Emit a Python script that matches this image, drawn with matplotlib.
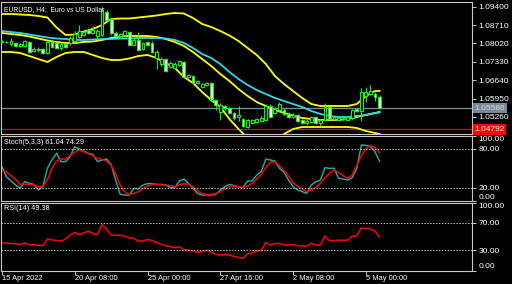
import numpy as np
import matplotlib
matplotlib.use("Agg")
import matplotlib.pyplot as plt

# EURUSD H4 candles
open_ = [1.08073, 1.08073, 1.07998, 1.08035, 1.07923, 1.07923, 1.08073, 1.07735, 1.07773, 1.0781,
         1.0766, 1.08073, 1.08035, 1.07848, 1.07998, 1.08035, 1.0811, 1.0826, 1.08335, 1.08523,
         1.0841, 1.08298, 1.08335, 1.09198, 1.08935, 1.0841, 1.08298, 1.08335, 1.08448, 1.0796,
         1.08148, 1.0781, 1.08073, 1.08035, 1.07473, 1.07248, 1.07435, 1.07135, 1.07098, 1.0721,
         1.07323, 1.0676, 1.06798, 1.06535, 1.06385, 1.0646, 1.06535, 1.05898, 1.05448, 1.05673,
         1.05598, 1.0541, 1.0526, 1.05185, 1.04885, 1.05035, 1.05073, 1.0511, 1.05148, 1.05673,
         1.0541, 1.05523, 1.05523, 1.05373, 1.0526, 1.05335, 1.05148, 1.05035, 1.05073, 1.0526,
         1.05035, 1.05148, 1.05635, 1.05185, 1.05148, 1.05185, 1.05148, 1.05223, 1.0556, 1.05485,
         1.06048, 1.06123, 1.06123, 1.0601]
close = [1.0811, 1.0808, 1.0811, 1.07923, 1.07998, 1.0811, 1.07698, 1.0781, 1.0781, 1.0766,
         1.08073, 1.07885, 1.07848, 1.07998, 1.07885, 1.08223, 1.08373, 1.08485, 1.08448, 1.0841,
         1.08523, 1.08485, 1.09273, 1.08898, 1.0841, 1.08298, 1.08373, 1.08485, 1.0796, 1.08148,
         1.07773, 1.08035, 1.0796, 1.07698, 1.07698, 1.07435, 1.06985, 1.07285, 1.07248, 1.0736,
         1.0676, 1.06835, 1.06535, 1.0661, 1.06498, 1.06535, 1.05898, 1.0571, 1.0571, 1.05598,
         1.0541, 1.05223, 1.05335, 1.04923, 1.05148, 1.05148, 1.05185, 1.05223, 1.05673, 1.0526,
         1.0556, 1.05748, 1.05373, 1.0526, 1.05335, 1.0511, 1.05035, 1.0511, 1.0526, 1.05035,
         1.05148, 1.05635, 1.05185, 1.0526, 1.05223, 1.05223, 1.0526, 1.05523, 1.05485, 1.06198,
         1.06198, 1.06235, 1.0601, 1.05586]
high = [1.08148, 1.0811, 1.08223, 1.08073, 1.08035, 1.08148, 1.0811, 1.07885, 1.07885, 1.07848,
        1.0811, 1.08148, 1.08073, 1.08035, 1.08035, 1.08298, 1.08485, 1.0871, 1.08523, 1.0856,
        1.08673, 1.0856, 1.09385, 1.09273, 1.08973, 1.08485, 1.0841, 1.08523, 1.08485, 1.08223,
        1.08448, 1.08073, 1.0811, 1.0811, 1.07773, 1.0751, 1.07473, 1.0736, 1.07323, 1.07398,
        1.0736, 1.06873, 1.06835, 1.06648, 1.06535, 1.06573, 1.06573, 1.05935, 1.05785, 1.0571,
        1.05635, 1.05448, 1.05673, 1.05223, 1.05185, 1.05185, 1.05223, 1.05298, 1.05748, 1.05748,
        1.05635, 1.05823, 1.05598, 1.05448, 1.0541, 1.05373, 1.05185, 1.05185, 1.05298, 1.05298,
        1.05185, 1.05785, 1.05673, 1.05298, 1.0526, 1.0526, 1.05298, 1.0556, 1.05598, 1.06348,
        1.06385, 1.0646, 1.06198, 1.06085]
low = [1.08035, 1.08035, 1.07923, 1.07885, 1.07885, 1.07885, 1.0766, 1.07698, 1.07698, 1.07623,
       1.07623, 1.07848, 1.0781, 1.07773, 1.07848, 1.0796, 1.08073, 1.08223, 1.08298, 1.08373,
       1.08373, 1.08223, 1.08298, 1.0886, 1.08335, 1.0826, 1.0826, 1.08298, 1.07923, 1.07923,
       1.07735, 1.07773, 1.07923, 1.0766, 1.0706, 1.07173, 1.06948, 1.07098, 1.0706, 1.07173,
       1.06723, 1.06723, 1.06498, 1.06498, 1.06348, 1.06423, 1.0586, 1.05523, 1.05148, 1.05523,
       1.05373, 1.05148, 1.0511, 1.04885, 1.04848, 1.04998, 1.05035, 1.05073, 1.0511, 1.05223,
       1.05373, 1.05485, 1.05335, 1.05223, 1.05223, 1.05073, 1.04998, 1.0496, 1.05035, 1.04998,
       1.04923, 1.0511, 1.05148, 1.05148, 1.0511, 1.05148, 1.0511, 1.05148, 1.05448, 1.0511,
       1.05823, 1.06085, 1.0586, 1.0556]

# Bollinger bands and moving average, read at every second bar
band_idx = list(range(0, 84, 2)) + [83]
bb_upper = [1.09123, 1.09123, 1.09104, 1.09085, 1.09048, 1.08991, 1.08616, 1.08335, 1.08354, 1.08466,
            1.0856, 1.0871, 1.08935, 1.08954, 1.08954, 1.08991, 1.09029, 1.09066, 1.09123, 1.0916,
            1.09141, 1.08973, 1.08748, 1.08635, 1.08485, 1.08316, 1.0811, 1.07848, 1.07585, 1.07248,
            1.06798, 1.06498, 1.06235, 1.05973, 1.05748, 1.05673, 1.05673, 1.05673, 1.05673, 1.05748,
            1.06048, 1.06235, 1.06235]
bb_middle = [1.0841, 1.08373, 1.08335, 1.08279, 1.08204, 1.08129, 1.08073, 1.08035, 1.08035, 1.08073,
             1.08091, 1.08148, 1.08223, 1.08279, 1.08298, 1.08298, 1.08298, 1.0826, 1.08185, 1.08073,
             1.07923, 1.07698, 1.07435, 1.07173, 1.06873, 1.0661, 1.0631, 1.06048, 1.05823, 1.05673,
             1.05523, 1.0541, 1.05316, 1.05223, 1.05185, 1.05148, 1.05148, 1.05148, 1.05185, 1.0526,
             1.05335, 1.0541, 1.05448]
bb_lower = [1.07698, 1.07698, 1.0766, 1.07548, 1.07435, 1.07323, 1.0751, 1.0766, 1.07698, 1.07698,
            1.07585, 1.07473, 1.07398, 1.07398, 1.07454, 1.07548, 1.07585, 1.07473, 1.07285, 1.07098,
            1.0676, 1.06535, 1.06198, 1.05898, 1.05635, 1.05185, 1.0481, 1.04473, 1.04323, 1.04285,
            1.0436, 1.04623, 1.0481, 1.04885, 1.04885, 1.04885, 1.04885, 1.04885, 1.04885, 1.04848,
            1.04735, 1.0466, 1.04623]
ma_line = [1.08485, 1.08448, 1.0841, 1.08354, 1.08298, 1.08241, 1.08204, 1.08185, 1.08148, 1.08148,
           1.08166, 1.08185, 1.08185, 1.08204, 1.08204, 1.08223, 1.08223, 1.08223, 1.08204, 1.08148,
           1.08035, 1.07848, 1.07623, 1.07473, 1.07248, 1.06948, 1.06685, 1.0646, 1.06273, 1.06123,
           1.05973, 1.0586, 1.05748, 1.05635, 1.05485, 1.05373, 1.05298, 1.0526, 1.0526, 1.05298,
           1.05335, 1.0541, 1.05429]

stoch_k = [52.8, 37.4, 30.8, 24.6, 19.5, 29.7, 27.2, 25.6, 16.9, 22.1,
           50.3, 63.1, 73.3, 60.5, 60.5, 68.2, 83.6, 80.0, 76.9, 73.3,
           71.8, 60.5, 63.1, 64.6, 56.4, 32.3, 10.2, 9.2, 9.2, 19.5,
           18.5, 24.6, 26.7, 26.7, 25.6, 25.6, 24.6, 20.5, 20.5, 30.8,
           33.8, 27.2, 19.5, 11.8, 9.2, 9.2, 9.2, 10.2, 16.9, 22.1,
           25.6, 23.6, 21.6, 20.5, 30.8, 30.8, 40.0, 45.1, 64.6, 63.1,
           61.5, 50.3, 44.1, 32.3, 22.1, 16.9, 14.4, 11.8, 24.6, 29.7,
           32.3, 51.3, 50.3, 50.3, 34.9, 33.8, 32.3, 35.9, 50.3, 86.2,
           85.6, 83.6, 75.9, 61.04]
stoch_d = [46.2, 45.1, 39.0, 33.3, 25.6, 25.6, 25.6, 24.6, 22.1, 22.1,
           32.3, 50.3, 61.5, 64.6, 64.6, 69.7, 74.9, 78.5, 75.9, 72.8,
           69.7, 65.6, 64.1, 61.5, 55.4, 41.5, 24.6, 14.4, 10.2, 11.8,
           14.4, 18.5, 23.6, 25.6, 25.6, 24.6, 24.6, 23.6, 22.1, 24.6,
           26.7, 25.6, 22.0, 15.4, 11.3, 9.7, 10.2, 11.3, 14.4, 18.0,
           22.1, 23.1, 22.1, 21.0, 23.1, 26.7, 33.8, 41.0, 51.3, 59.5,
           60.5, 54.4, 47.2, 38.5, 28.2, 22.6, 18.5, 14.4, 16.9, 21.0,
           27.2, 35.9, 42.6, 47.7, 43.6, 39.0, 34.9, 40.0, 54.4, 69.7,
           80.0, 85.1, 82.1, 74.29]
rsi = [40.7, 40.2, 39.8, 39.3, 38.3, 40.7, 37.8, 37.8, 37.3, 36.3,
       46.1, 45.1, 44.1, 43.2, 46.1, 52.0, 55.9, 52.9, 55.4, 57.8,
       54.4, 52.9, 67.6, 60.7, 52.0, 52.0, 52.0, 50.5, 48.0, 47.1,
       43.2, 43.2, 45.6, 44.1, 41.2, 38.3, 36.3, 35.4, 33.4, 34.9,
       31.0, 30.0, 29.0, 26.6, 27.6, 30.0, 26.6, 23.7, 22.7, 23.2,
       22.7, 20.7, 19.3, 17.8, 24.6, 25.6, 28.5, 29.0, 41.2, 37.3,
       39.8, 39.8, 37.8, 37.3, 38.3, 36.3, 35.9, 35.9, 40.2, 37.3,
       37.3, 51.0, 43.7, 44.1, 44.6, 44.6, 44.6, 50.5, 51.0, 62.7,
       61.7, 61.2, 57.8, 49.38]

price_ticks = [1.05260, 1.05950, 1.06640, 1.07330, 1.08020, 1.08710, 1.09400]
last_price = 1.05586
red_level = 1.04792
date_pos = [0, 16, 32, 48, 64, 80]
date_labels = ["15 Apr 2022", "20 Apr 08:00", "25 Apr 00:00", "27 Apr 16:00", "2 May 08:00", "5 May 00:00"]

plt.rcParams['font.family'] = ['Liberation Sans', 'DejaVu Sans']
W, H = 512, 284
fig = plt.figure(figsize=(W / 100, H / 100), dpi=100, facecolor='black')


def rect(x0, y0, x1, y1):
    return [x0 / W, 1 - y1 / H, (x1 - x0) / W, (y1 - y0) / H]


ax = fig.add_axes(rect(1, 2, 472, 134))
ax_st = fig.add_axes(rect(1, 136, 472, 201))
ax_rsi = fig.add_axes(rect(1, 202.5, 472, 270.5))

xmax = -0.2 + 471 / 4.55
for a in (ax, ax_st, ax_rsi):
    a.set_facecolor('black')
    a.set_xlim(-0.2, xmax)
    for s in a.spines.values():
        s.set_color('#c8c8c8')
        s.set_linewidth(0.8)
    a.tick_params(axis='x', bottom=False, labelbottom=False)
    a.tick_params(axis='y', left=False, labelleft=False, right=True, labelright=True,
                  length=3, width=0.7, color='#c8c8c8', labelcolor='white',
                  labelsize=6.0, pad=1.5)

# main price panel
x = np.arange(len(close))
o = np.array(open_)
c = np.array(close)
up = c >= o
ax.vlines(x, low, high, color='#00ff00', lw=0.75, zorder=3)
body_lo = np.minimum(o, c)
body_h = np.maximum(np.abs(c - o), 0.00004)
ax.bar(x[up], body_h[up], bottom=body_lo[up], width=0.62, color='black',
       edgecolor='#00ff00', linewidth=0.75, zorder=4)
ax.bar(x[~up], body_h[~up], bottom=body_lo[~up], width=0.62, color='white',
       edgecolor='#00ff00', linewidth=0.75, zorder=4)

ax.plot(band_idx, bb_upper, color='#ffff00', lw=1.3, zorder=2)
ax.plot(band_idx, bb_middle, color='#ffff00', lw=1.3, zorder=2)
ax.plot(band_idx, bb_lower, color='#ffff00', lw=1.3, zorder=2)
ax.plot(band_idx, ma_line, color='#2fd8e8', lw=1.3, zorder=2)

ax.axhline(last_price, color='#7f8c99', lw=0.9, zorder=1)
ax.axhline(red_level, color='#e00000', lw=0.9, zorder=1)

ax.set_ylim(1.0526 - 17 * 0.000375, 1.0526 + 115 * 0.000375)
ax.set_yticks(price_ticks, ['%.5f' % p for p in price_ticks])

ytr = ax.get_yaxis_transform()
ax.text(1.005, last_price, '%.5f' % last_price, transform=ytr, va='center', ha='left',
        color='#d8d8d8', fontsize=6.0,
        bbox=dict(boxstyle='square,pad=0.2', fc='#77889a', ec='none'), clip_on=False)
ax.text(1.005, red_level, '%.5f' % red_level, transform=ytr, va='center', ha='left',
        color='white', fontsize=6.0,
        bbox=dict(boxstyle='square,pad=0.2', fc='#ff0000', ec='none'), clip_on=False)

# stochastic
ax_st.plot(x, stoch_k, color='#20b2aa', lw=1.0)
ax_st.plot(x, stoch_d, color='#ff0000', lw=1.1)
for lvl in (20, 80):
    ax_st.axhline(lvl, color='#c0c0c0', lw=0.7, ls=(0, (1.5, 1.5)))
ax_st.set_ylim(0, 100)
ax_st.set_yticks([0, 20, 80, 100], ['0.00', '20.00', '80.00', '100.00'])

# RSI
ax_rsi.plot(x, rsi, color='#ff0000', lw=1.1)
for lvl in (30, 70):
    ax_rsi.axhline(lvl, color='#c0c0c0', lw=0.7, ls=(0, (1.5, 1.5)))
ax_rsi.set_ylim(0, 100)
ax_rsi.set_yticks([0, 30, 70, 100], ['0.00', '30.00', '70.00', '100.00'])

for a in (ax_st, ax_rsi):
    ticks = a.yaxis.get_major_ticks()
    ticks[0].label2.set_va('bottom')
    ticks[-1].label2.set_va('top')

ax_rsi.set_xticks(date_pos, date_labels)
ax_rsi.tick_params(axis='x', bottom=True, labelbottom=True, length=3, width=0.7,
                   color='#c8c8c8', labelcolor='white', labelsize=5.4, pad=0.5)
for lbl in ax_rsi.get_xticklabels():
    lbl.set_ha('left')

fig.text(4 / W, 1 - 10 / H, 'EURUSD, H4:  Euro vs US Dollar', color='white',
         fontsize=4.9, va='center')
fig.text(4 / W, 1 - 143 / H, 'Stoch(5,3,3) 61.04 74.29', color='white',
         fontsize=5.2, va='center')
fig.text(4 / W, 1 - 209 / H, 'RSI(14) 49.38', color='white',
         fontsize=5.2, va='center')

fig.savefig('out.png', dpi=100, facecolor='black')
